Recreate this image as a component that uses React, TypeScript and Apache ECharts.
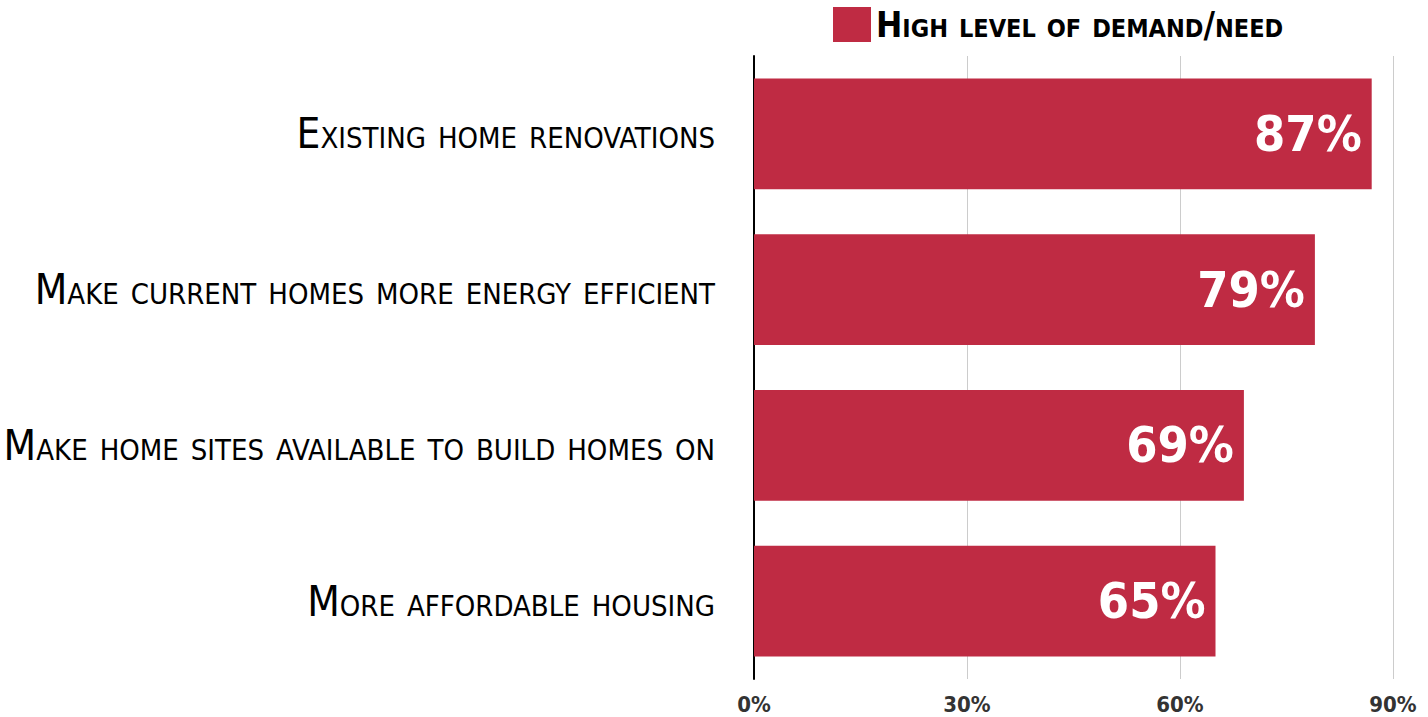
import React, { useEffect, useRef } from "react";
import * as echarts from "echarts";

const categories = [
  "Existing home renovations",
  "Make current homes more energy efficient",
  "Make home sites available to build homes on",
  "More affordable housing",
];
const values = [87, 79, 69, 65];
const seriesName = "High level of demand/need";
const axisMin = 0;
const axisMax = 90;
const axisInterval = 30;

const FONT = "'Liberation Sans Narrow', 'DejaVu Sans Condensed', 'Arial Narrow', sans-serif";

export default function App() {
  const ref = useRef<HTMLDivElement>(null);
  useEffect(() => {
    document.body.style.margin = "0";
    const chart = echarts.init(ref.current!, null, { renderer: "svg" });
    chart.setOption({
      animation: false,
      textStyle: { fontFamily: FONT },
      legend: {
        data: [seriesName],
        left: 828,
        top: 2,
        itemWidth: 38,
        itemHeight: 35,
        itemGap: 12,
        icon: "rect",
        textStyle: { fontSize: 35, fontWeight: "bold", color: "#000", fontFamily: FONT },
      },
      grid: { left: 754, right: 35, top: 56, bottom: 38, containLabel: false, outerBoundsMode: "none" },
      xAxis: {
        type: "value",
        min: axisMin,
        max: axisMax,
        interval: axisInterval,
        axisLine: { show: false },
        axisTick: { show: false },
        splitLine: { show: true, lineStyle: { color: "#cccccc", width: 1 } },
        axisLabel: {
          formatter: "{value}%",
          fontSize: 22,
          fontWeight: "bold",
          color: "#333333",
          margin: 14,
          fontFamily: FONT,
        },
      },
      yAxis: {
        type: "category",
        data: categories,
        inverse: true,
        axisLine: { show: true, lineStyle: { color: "#000000", width: 2 } },
        axisTick: { show: false },
        axisLabel: {
          fontSize: 42,
          color: "#000000",
          margin: 39,
          fontFamily: FONT,
        },
      },
      series: [
        {
          name: seriesName,
          type: "bar",
          data: values,
          barWidth: "71%",
          itemStyle: { color: "#bf2b43" },
          label: {
            show: true,
            position: "insideRight",
            distance: 10,
            formatter: "{c}%",
            color: "#ffffff",
            fontSize: 50,
            fontWeight: "bold",
            fontFamily: FONT,
          },
        },
      ],
    });
    return () => chart.dispose();
  }, []);
  return (
    <div
      ref={ref}
      style={{ width: 1428, height: 717, fontVariant: "small-caps" }}
    />
  );
}
